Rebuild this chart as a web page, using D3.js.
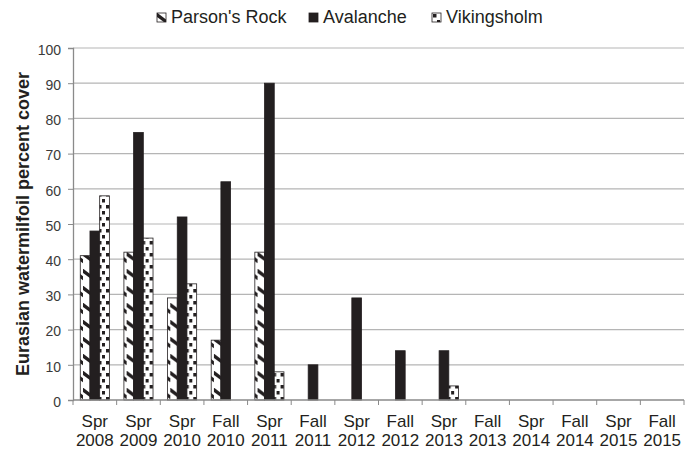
<!DOCTYPE html>
<html>
<head>
<meta charset="utf-8">
<script src="https://cdn.jsdelivr.net/npm/d3@7"></script>
<style>
  body { margin: 0; background: #fff; }
  svg { font-family: "Liberation Sans", Arial, sans-serif; }
</style>
</head>
<body>
<div class="chart"></div>
<script>
// data
var seasons = ["Spr", "Spr", "Spr", "Fall", "Spr", "Fall", "Spr", "Fall", "Spr", "Fall", "Spr", "Fall", "Spr", "Fall"];
var years = ["2008", "2009", "2010", "2010", "2011", "2011", "2012", "2012", "2013", "2013", "2014", "2014", "2015", "2015"];
var seriesNames = ["Parson's Rock", "Avalanche", "Vikingsholm"];
var parsons = [41, 42, 29, 17, 42, 0, 0, 0, 0, 0, 0, 0, 0, 0];
var avalanche = [48, 76, 52, 62, 90, 10, 29, 14, 14, 0, 0, 0, 0, 0];
var vikingsholm = [58, 46, 33, 0, 8, 0, 0, 0, 4, 0, 0, 0, 0, 0];
var yTicks = [0, 10, 20, 30, 40, 50, 60, 70, 80, 90, 100];

var svgWidth = 698;
var svgHeight = 453;
var margin = { top: 48, right: 14, bottom: 53, left: 73 };
var width = svgWidth - margin.left - margin.right;
var height = svgHeight - margin.top - margin.bottom;
var ink = "#231f20";

var cats = seasons.map((s, i) => i);
var values = [parsons, avalanche, vikingsholm];

var svg = d3.select(".chart").append("svg")
  .attr("width", svgWidth)
  .attr("height", svgHeight);

// fill patterns
var defs = svg.append("defs");
var pr = defs.append("pattern")
  .attr("id", "pat-parsons")
  .attr("patternUnits", "userSpaceOnUse")
  .attr("width", 10).attr("height", 17);
pr.append("rect").attr("width", 10).attr("height", 17).attr("fill", "#fff");
pr.append("path").attr("d", "M-1,1 L11,10").attr("stroke", ink).attr("stroke-width", 3.4);

var vk = defs.append("pattern")
  .attr("id", "pat-viking")
  .attr("patternUnits", "userSpaceOnUse")
  .attr("width", 8).attr("height", 12);
vk.append("rect").attr("width", 8).attr("height", 12).attr("fill", "#fff");
vk.append("rect").attr("x", 1).attr("y", 1).attr("width", 3.5).attr("height", 3.5).attr("fill", ink);
vk.append("rect").attr("x", 5).attr("y", 7).attr("width", 3.5).attr("height", 3.5).attr("fill", ink);

var fills = ["url(#pat-parsons)", ink, "url(#pat-viking)"];

var chartGroup = svg.append("g")
  .attr("transform", `translate(${margin.left}, ${margin.top})`);

var x0 = d3.scaleBand().domain(cats).range([0, width]).paddingInner(0);
var bw = x0.bandwidth();
var groupW = bw * 0.667;
var x1 = d3.scaleBand().domain([0, 1, 2]).range([(bw - groupW) / 2, (bw + groupW) / 2]);
var y = d3.scaleLinear().domain([0, 100]).range([height, 0]);

// gridlines
chartGroup.append("g")
  .selectAll("line")
  .data(yTicks.slice(1))
  .enter()
  .append("line")
  .attr("x1", 0).attr("x2", width)
  .attr("y1", d => y(d)).attr("y2", d => y(d))
  .attr("stroke", "#b5b5b5").attr("stroke-width", 1.2);

// y axis
var yAxis = chartGroup.append("g")
  .call(d3.axisLeft(y).tickValues(yTicks).tickSize(5).tickPadding(7));
yAxis.select(".domain").attr("stroke", "#8a8a8a").attr("stroke-width", 1.3);
yAxis.selectAll(".tick line").attr("stroke", "#8a8a8a");
yAxis.selectAll("text").attr("fill", "#3a3a3a").attr("dy", "0.45em")
  .style("font-family", "'Liberation Sans', Arial, sans-serif").style("font-size", "14px");

// bars
var barGroups = chartGroup.selectAll(".cat")
  .data(cats)
  .enter()
  .append("g")
  .attr("transform", d => `translate(${x0(d)}, 0)`);

barGroups.selectAll("rect")
  .data(i => values.map((v, s) => ({ s: s, v: v[i] })).filter(d => d.v > 0))
  .enter()
  .append("rect")
  .attr("x", d => x1(d.s))
  .attr("y", d => y(d.v))
  .attr("width", x1.bandwidth())
  .attr("height", d => height - y(d.v))
  .attr("fill", d => fills[d.s])
  .attr("stroke", ink)
  .attr("stroke-width", 0.8);

// x axis
var xAxis = chartGroup.append("g").attr("transform", `translate(0, ${height})`);
xAxis.append("line")
  .attr("x1", 0).attr("x2", width)
  .attr("stroke", "#8a8a8a").attr("stroke-width", 1.3);
xAxis.selectAll(".xt")
  .data(d3.range(cats.length + 1))
  .enter()
  .append("line")
  .attr("x1", d => d * bw).attr("x2", d => d * bw)
  .attr("y1", 0).attr("y2", 5)
  .attr("stroke", "#8a8a8a");
var xLabels = xAxis.selectAll(".xl")
  .data(cats)
  .enter()
  .append("text")
  .attr("text-anchor", "middle")
  .attr("fill", ink)
  .style("font-size", "17px");
xLabels.append("tspan")
  .attr("x", d => x0(d) + bw / 2).attr("y", 27)
  .text(d => seasons[d]);
xLabels.append("tspan")
  .attr("x", d => x0(d) + bw / 2).attr("y", 45.5)
  .text(d => years[d]);

// y axis title
svg.append("text")
  .attr("transform", `translate(29, ${margin.top + height / 2}) rotate(-90)`)
  .attr("text-anchor", "middle")
  .attr("fill", ink)
  .style("font-size", "18px")
  .style("font-weight", "bold")
  .text("Eurasian watermilfoil percent cover");

// legend
var legendX = [157, 309, 432];
var legend = svg.append("g").selectAll("g")
  .data(seriesNames)
  .enter()
  .append("g")
  .attr("transform", (d, i) => `translate(${legendX[i]}, 13)`);
legend.append("rect")
  .attr("width", 9).attr("height", 9)
  .attr("fill", (d, i) => fills[i])
  .attr("stroke", ink).attr("stroke-width", 0.8);
legend.append("text")
  .attr("x", 14).attr("y", 10)
  .attr("fill", ink)
  .style("font-size", "18px")
  .text(d => d);
</script>
</body>
</html>
